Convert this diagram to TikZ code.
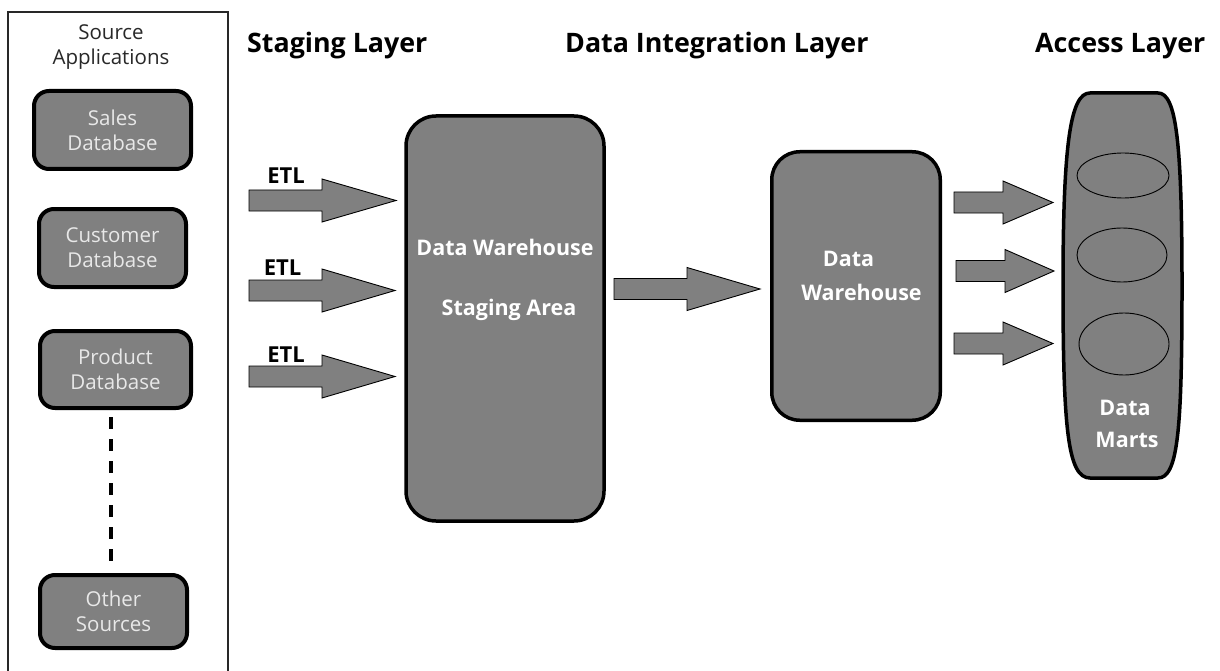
\documentclass[tikz,border=0pt]{standalone}
\usepackage{fontspec}
\setmainfont{Open Sans}
\definecolor{boxgray}{RGB}{128,128,128}
\definecolor{softwhite}{RGB}{232,232,232}
\definecolor{framegray}{RGB}{40,40,40}
% block arrow: tail x, head base x, tip x, centre y
\newcommand\blkarrow[4]{%
  \draw[blk] (#1,#4-10.5) -- (#2,#4-10.5) -- (#2,#4-21.5) -- (#3,#4)
    -- (#2,#4+21.5) -- (#2,#4+10.5) -- (#1,#4+10.5) -- cycle;}
\begin{document}
\begin{tikzpicture}[x=1pt,y=-1pt,
  srcbox/.style={draw=black, line width=4pt, fill=boxgray, rounded corners=15pt,
    inner sep=0pt, text=softwhite, align=center,
    font=\fontsize{20.5}{25}\selectfont},
  bigbox/.style={draw=black, line width=3.5pt, fill=boxgray, rounded corners=30pt,
    inner sep=0pt},
  blk/.style={draw=black, line width=0.9pt, fill=boxgray},
  layer/.style={anchor=base west, inner sep=0pt, text=black,
    font=\bfseries\fontsize{26.8}{30}\selectfont},
  boxlabel/.style={inner sep=0pt, text=white,
    font=\bfseries\fontsize{21.5}{26}\selectfont},
  etl/.style={inner sep=0pt, text=black,
    font=\bfseries\fontsize{22}{26}\selectfont},
  dashsty/.style={line width=4.5pt, dash pattern=on 11.5pt off 10.5pt}]
\useasboundingbox (0,0) rectangle (1220,671);
\clip (0,0) rectangle (1220,671);
\fill[white] (0,0) rectangle (1220,671);

% source applications frame
\node[draw=framegray, line width=1.5pt, minimum width=220pt, minimum height=668pt,
  inner sep=0pt] (frame) at (118,346) {};
\node[text=framegray, align=center, inner sep=0pt,
  font=\fontsize{20.5}{25}\selectfont] (srctitle) at (111,47.5) {Source\\Applications};

\node[srcbox, minimum width=157pt, minimum height=78pt] (sales) at (112.5,130) {Sales\\Database};
\node[srcbox, minimum width=147pt, minimum height=78pt] (cust) at (112.5,248) {Customer\\Database};
\node[srcbox, minimum width=151pt, minimum height=77pt] (prod) at (115.5,369.5) {Product\\Database};
\node[srcbox, minimum width=147pt, minimum height=73pt] (other) at (113.5,611.5) {Other\\Sources};

\coordinate (dtop) at (111,417);
\coordinate (dbot) at (111,563);
\draw[dashsty] (dtop) -- (dbot);

% layer headings
\node[layer] (hstage) at (247,53) {Staging Layer};
\node[layer] (hinteg) at (565,53) {Data Integration Layer};
\node[layer] (haccess) at (1035,53) {Access Layer};

% staging area
\node[bigbox, minimum width=198pt, minimum height=405pt] (stage) at (505,318.5) {};
\node[boxlabel] (stage1) at (505,247) {Data Warehouse};
\node[boxlabel] (stage2) at (509,310) {Staging Area};

% ETL arrows
\blkarrow{249}{322}{396}{200.5}
\blkarrow{249}{322}{395}{290.5}
\blkarrow{249}{322}{395}{376.5}
\node[etl] (etl1) at (286,176) {ETL};
\node[etl] (etl2) at (282.5,268) {ETL};
\node[etl] (etl3) at (286,355) {ETL};

% data warehouse
\blkarrow{614}{687}{760}{289}
\node[bigbox, minimum width=168.5pt, minimum height=268.5pt, rounded corners=28pt] (dw) at (856,286) {};
\node[boxlabel] (dw1) at (848.5,259) {Data};
\node[boxlabel] (dw2) at (861.5,292) {Warehouse};

% data marts barrel
\blkarrow{954}{1003}{1053}{202.5}
\blkarrow{956}{1005}{1054}{271}
\blkarrow{954}{1003}{1053}{343.5}
\draw[line width=3.5pt, fill=boxgray]
  (1090,93) -- (1158,93)
  .. controls (1176,93) and (1182,140) .. (1182,285)
  .. controls (1182,430) and (1178,478) .. (1158,478)
  -- (1090,478)
  .. controls (1068,478) and (1063,430) .. (1063,285)
  .. controls (1063,140) and (1071,93) .. (1090,93) -- cycle;
\draw[line width=0.9pt] (1123,175.5) ellipse [x radius=46, y radius=22.5];
\draw[line width=0.9pt] (1122,255) ellipse [x radius=45, y radius=27];
\draw[line width=0.9pt] (1124,344) ellipse [x radius=45, y radius=31];
\node[boxlabel] (dm1) at (1125,408) {Data};
\node[boxlabel] (dm2) at (1127,440) {Marts};
\end{tikzpicture}
\end{document}
